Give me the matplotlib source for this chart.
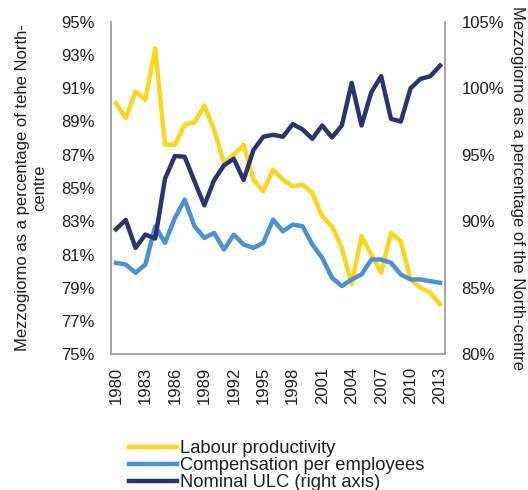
import matplotlib
matplotlib.use('Agg')
import matplotlib.pyplot as plt
import numpy as np

plt.rcParams['font.family'] = ['Liberation Sans', 'DejaVu Sans']
plt.rcParams['font.size'] = 12

years = list(range(1980, 2014))

labour_productivity = [90.1, 89.2, 90.8, 90.3, 93.4, 87.6, 87.6, 88.8, 88.95, 89.95,
                       88.5, 86.5, 87.0, 87.6, 85.5, 84.8, 86.1, 85.5, 85.1, 85.2,
                       84.7, 83.3, 82.7, 81.4, 79.2, 82.1, 81.0, 79.9, 82.3, 81.8,
                       79.5, 79.0, 78.7, 78.0]
compensation = [80.5, 80.4, 79.9, 80.4, 82.7, 81.7, 83.2, 84.3, 82.7, 82.0,
                82.3, 81.3, 82.2, 81.6, 81.4, 81.7, 83.1, 82.4, 82.8, 82.7,
                81.6, 80.8, 79.6, 79.1, 79.5, 79.8, 80.7, 80.7, 80.5, 79.8,
                79.5, 79.5, 79.4, 79.3]
nominal_ulc = [89.4, 90.1, 88.0, 89.0, 88.7, 93.2, 94.9, 94.85, 93.0, 91.2,
               93.1, 94.2, 94.7, 93.1, 95.35, 96.35, 96.5, 96.35, 97.3, 96.9,
               96.2, 97.2, 96.3, 97.2, 100.4, 97.2, 99.7, 100.9, 97.7, 97.5,
               100.0, 100.7, 100.9, 101.7]

left_ticks = list(range(75, 96, 2))
right_ticks = list(range(80, 106, 5))
year_labels = [str(y) for y in years[::3]]

c_yellow = '#FFD51E'
c_blue = '#4A92D0'
c_navy = '#2A3570'
c_spine = '#A6A6A6'
c_text = '#1E1E1E'

fig = plt.figure(figsize=(5.28, 4.90), dpi=100)
ax = fig.add_axes([111 / 528, 1 - 354.3 / 490, 334 / 528, 332.6 / 490])
ax2 = ax.twinx()

x = np.arange(len(years))
l1, = ax.plot(x, labour_productivity, color=c_yellow, lw=3.2, solid_joinstyle='round')
l2, = ax.plot(x, compensation, color=c_blue, lw=3.2, solid_joinstyle='round')
l3, = ax2.plot(x, nominal_ulc, color=c_navy, lw=3.2, solid_joinstyle='round')

ax.set_xlim(-0.5, len(years) - 0.5)
ax.set_ylim(75, 95)
ax2.set_ylim(80, 105)
ax.set_xticks(x[::3])
ax.set_xticklabels(year_labels, rotation=90)
ax.set_yticks(left_ticks)
ax.set_yticklabels(['%d%%' % t for t in left_ticks])
ax2.set_yticks(right_ticks)
ax2.set_yticklabels(['%d%%' % t for t in right_ticks])

for a in (ax, ax2):
    a.spines['top'].set_visible(False)
    for s in ('left', 'right', 'bottom'):
        a.spines[s].set_color(c_spine)
        a.spines[s].set_linewidth(1.2)
    a.tick_params(length=0, colors=c_text, labelsize=12)
ax.tick_params(axis='y', pad=12)
ax2.tick_params(axis='y', pad=12)
ax.tick_params(axis='x', pad=9)

ax.set_ylabel('Mezzogiorno as a percentage of tehe North-\ncentre', color=c_text, fontsize=12)
ax.yaxis.set_label_coords(-0.19, 0.5)
ax2.set_ylabel('Mezzogiorno as a percentage of the North-centre', color=c_text,
               fontsize=12, rotation=270, va='bottom')
ax2.yaxis.set_label_coords(1.195, 0.5)

fig.legend([l1, l2, l3],
           ['Labour productivity', 'Compensation per employees', 'Nominal ULC (right axis)'],
           loc='upper left', bbox_to_anchor=(129 / 528, 1 - 440 / 490),
           frameon=False, fontsize=13.2, handlelength=2.6, handletextpad=0.18,
           borderpad=0, borderaxespad=0, labelspacing=0.0, labelcolor=c_text)

fig.savefig('out.png', dpi=100)
